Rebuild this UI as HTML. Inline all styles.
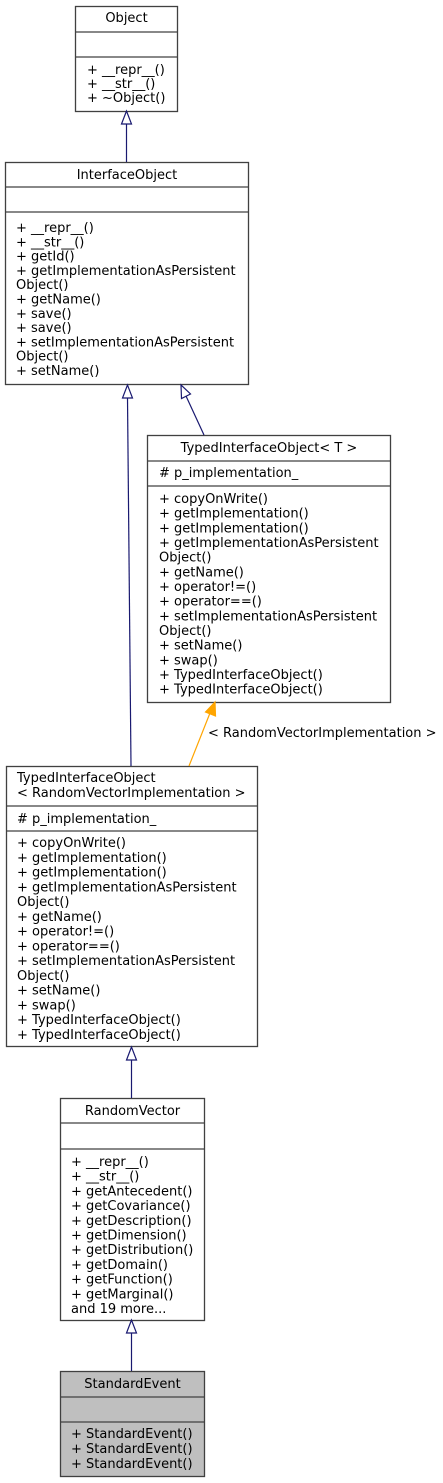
<!DOCTYPE html>
<html><head><meta charset="utf-8"><style>
html,body{margin:0;padding:0;background:#fff;}
svg{display:block;}
text{font-family:"DejaVu Sans","Liberation Sans",sans-serif;font-size:13px;fill:#000;}
.c{text-anchor:middle;}
</style></head><body>
<svg width="443" height="1483" viewBox="0 0 443 1483" xmlns="http://www.w3.org/2000/svg">
<g fill="#fff" stroke="#404040" stroke-width="1.3">
<!-- Object -->
<rect x="75.5" y="6.5" width="102" height="105"/>
<line x1="75.5" y1="32" x2="177.5" y2="32"/><line x1="75.5" y1="57" x2="177.5" y2="57"/>
<!-- InterfaceObject -->
<rect x="5.5" y="162.5" width="243" height="222"/>
<line x1="5.5" y1="187" x2="248.5" y2="187"/><line x1="5.5" y1="212" x2="248.5" y2="212"/>
<!-- TIO<T> -->
<rect x="147.5" y="435.5" width="243" height="267"/>
<line x1="147.5" y1="461" x2="390.5" y2="461"/><line x1="147.5" y1="486" x2="390.5" y2="486"/>
<!-- TIO<RVI> -->
<rect x="6.5" y="766.5" width="251" height="280"/>
<line x1="6.5" y1="806" x2="257.5" y2="806"/><line x1="6.5" y1="831" x2="257.5" y2="831"/>
<!-- RandomVector -->
<rect x="60.5" y="1098.5" width="144" height="222"/>
<line x1="60.5" y1="1123" x2="204.5" y2="1123"/><line x1="60.5" y1="1149" x2="204.5" y2="1149"/>
</g>
<g fill="#bfbfbf" stroke="#404040" stroke-width="1.3">
<rect x="60.5" y="1371.5" width="144" height="105"/>
<line x1="60.5" y1="1397" x2="204.5" y2="1397"/><line x1="60.5" y1="1422" x2="204.5" y2="1422"/>
</g>
<!-- edges -->
<g stroke="#191970" stroke-width="1.2" fill="#fff">
<line x1="126.5" y1="162" x2="126.5" y2="124"/>
<polygon points="126.5,111 121.5,124 131.5,124"/>
<line x1="131" y1="766" x2="127.5" y2="398"/>
<polygon points="127.5,385 122.5,398 132.5,398"/>
<line x1="204" y1="435" x2="186" y2="396"/>
<polygon points="181,385 181.5,398.5 190.5,394"/>
<line x1="131.5" y1="1098" x2="131.5" y2="1060"/>
<polygon points="131.5,1047 126.5,1060 136.5,1060"/>
<line x1="131.5" y1="1371" x2="131.5" y2="1333"/>
<polygon points="131.5,1320 126.5,1333 136.5,1333"/>
</g>
<g stroke="#ffa500" stroke-width="1.2" fill="#ffa500">
<line x1="189" y1="766" x2="210" y2="713"/>
<polygon points="215,702 205.5,712 215.5,716"/>
</g>
<text x="208" y="737">&lt; RandomVectorImplementation &gt;</text>
<!-- Object text -->
<text class="c" x="126.5" y="22">Object</text>
<text x="87" y="74">+ __repr__()</text>
<text x="87" y="88">+ __str__()</text>
<text x="87" y="102">+ ~Object()</text>
<!-- InterfaceObject text -->
<text class="c" x="127" y="179">InterfaceObject</text>
<g>
<text x="16" y="232">+ __repr__()</text>
<text x="16" y="246.3">+ __str__()</text>
<text x="16" y="260.6">+ getId()</text>
<text x="16" y="274.9">+ getImplementationAsPersistent</text>
<text x="16" y="289.2">Object()</text>
<text x="16" y="303.5">+ getName()</text>
<text x="16" y="317.8">+ save()</text>
<text x="16" y="332.1">+ save()</text>
<text x="16" y="346.4">+ setImplementationAsPersistent</text>
<text x="16" y="360.7">Object()</text>
<text x="16" y="375">+ setName()</text>
</g>
<!-- TIO<T> -->
<text class="c" x="269" y="452">TypedInterfaceObject&lt; T &gt;</text>
<text x="159" y="477"># p_implementation_</text>
<g>
<text x="159" y="503">+ copyOnWrite()</text>
<text x="159" y="517.7">+ getImplementation()</text>
<text x="159" y="532.3">+ getImplementation()</text>
<text x="159" y="547">+ getImplementationAsPersistent</text>
<text x="159" y="561.7">Object()</text>
<text x="159" y="576.3">+ getName()</text>
<text x="159" y="591">+ operator!=()</text>
<text x="159" y="605.7">+ operator==()</text>
<text x="159" y="620.3">+ setImplementationAsPersistent</text>
<text x="159" y="635">Object()</text>
<text x="159" y="649.7">+ setName()</text>
<text x="159" y="664.3">+ swap()</text>
<text x="159" y="679">+ TypedInterfaceObject()</text>
<text x="159" y="693.7">+ TypedInterfaceObject()</text>
</g>
<!-- TIO<RVI> -->
<text x="17" y="782">TypedInterfaceObject</text>
<text x="17" y="797">&lt; RandomVectorImplementation &gt;</text>
<text x="17" y="823"># p_implementation_</text>
<g>
<text x="17" y="847">+ copyOnWrite()</text>
<text x="17" y="861.8">+ getImplementation()</text>
<text x="17" y="876.5">+ getImplementation()</text>
<text x="17" y="891.3">+ getImplementationAsPersistent</text>
<text x="17" y="906">Object()</text>
<text x="17" y="920.8">+ getName()</text>
<text x="17" y="935.6">+ operator!=()</text>
<text x="17" y="950.4">+ operator==()</text>
<text x="17" y="965.1">+ setImplementationAsPersistent</text>
<text x="17" y="979.9">Object()</text>
<text x="17" y="994.7">+ setName()</text>
<text x="17" y="1009.4">+ swap()</text>
<text x="17" y="1024.2">+ TypedInterfaceObject()</text>
<text x="17" y="1039">+ TypedInterfaceObject()</text>
</g>
<!-- RandomVector -->
<text class="c" x="132.5" y="1115">RandomVector</text>
<g>
<text x="71" y="1166">+ __repr__()</text>
<text x="71" y="1180.7">+ __str__()</text>
<text x="71" y="1195.4">+ getAntecedent()</text>
<text x="71" y="1210.1">+ getCovariance()</text>
<text x="71" y="1224.8">+ getDescription()</text>
<text x="71" y="1239.5">+ getDimension()</text>
<text x="71" y="1254.2">+ getDistribution()</text>
<text x="71" y="1268.9">+ getDomain()</text>
<text x="71" y="1283.6">+ getFunction()</text>
<text x="71" y="1298.3">+ getMarginal()</text>
<text x="71" y="1313">and 19 more...</text>
</g>
<!-- StandardEvent -->
<text class="c" x="132.5" y="1388">StandardEvent</text>
<text x="71" y="1438">+ StandardEvent()</text>
<text x="71" y="1453">+ StandardEvent()</text>
<text x="71" y="1468">+ StandardEvent()</text>
</svg>
</body></html>
